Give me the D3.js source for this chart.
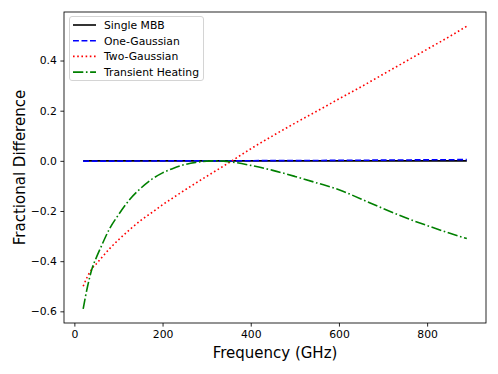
<!DOCTYPE html>
<html>
<head>
<meta charset="utf-8">
<script src="https://cdn.jsdelivr.net/npm/d3@7"></script>
<style>
  body { margin: 0; background: #fff; }
  text { font-family: "DejaVu Sans", sans-serif; }
</style>
</head>
<body>
<div id="chart"></div>
<script>
// frequencies (GHz)
var freq = [20, 30, 40, 50, 60, 80, 100, 125, 150, 175, 200, 225, 250, 275, 300, 325, 350, 400, 450, 500, 550, 600, 650, 700, 750, 800, 850, 890];

// fractional difference per model
var singleMBB = [0, 0, 0, 0, 0, 0, 0, 0, 0, 0, 0, 0, 0, 0, 0, 0, 0, 0, 0, 0, 0, 0, 0, 0, 0, 0, 0, 0];
var oneGaussian = [-0.001, -0.001, -0.001, -0.001, -0.001, -0.001, -0.001, -0.001, -0.0005, -0.0005, 0, 0, 0, 0, 0, 0, 0, 0.0005, 0.001, 0.001, 0.0015, 0.002, 0.0025, 0.003, 0.0035, 0.004, 0.0045, 0.005];
var twoGaussian = [-0.50, -0.46, -0.43, -0.41, -0.39, -0.35, -0.315, -0.275, -0.238, -0.207, -0.175, -0.146, -0.117, -0.089, -0.062, -0.035, -0.008, 0.048, 0.100, 0.150, 0.198, 0.247, 0.295, 0.345, 0.395, 0.445, 0.495, 0.537];
var transientHeating = [-0.59, -0.50, -0.43, -0.385, -0.345, -0.27, -0.215, -0.155, -0.11, -0.074, -0.048, -0.029, -0.015, -0.006, -0.001, 0.0, -0.003, -0.018, -0.038, -0.062, -0.088, -0.115, -0.152, -0.19, -0.226, -0.258, -0.288, -0.31];

var seriesNames = ["Single MBB", "One-Gaussian", "Two-Gaussian", "Transient Heating"];
var xTicks = [0, 200, 400, 600, 800];
var yTicks = [-0.6, -0.4, -0.2, 0.0, 0.2, 0.4];

var w = 498, h = 374;
var axLeft = 64, axRight = 486, axTop = 12, axBottom = 323;

var svg = d3.select("#chart").append("svg")
    .attr("width", w)
    .attr("height", h);

var x = d3.scaleLinear().domain([-23.5, 933.5]).range([axLeft, axRight]);
var y = d3.scaleLinear().domain([-0.6465, 0.5935]).range([axBottom, axTop]);

var minus = function(s) { return s.replace("-", "\u2212"); };

// axes
var xAxis = svg.append("g")
    .attr("transform", "translate(0," + axBottom + ")")
    .call(d3.axisBottom(x).tickValues(xTicks).tickSize(3.6).tickPadding(3.5).tickFormat(d3.format("d")));
var yAxis = svg.append("g")
    .attr("transform", "translate(" + axLeft + ",0)")
    .call(d3.axisLeft(y).tickValues(yTicks).tickSize(3.6).tickPadding(3.5).tickFormat(function(d) { return minus(d3.format(".1f")(d)); }));

[xAxis, yAxis].forEach(function(a) {
    a.select(".domain").remove();
    a.selectAll("line").attr("stroke", "#000").attr("stroke-width", 0.85);
    a.selectAll("text").attr("fill", "#000").style("font-size", "10.8px").style("font-family", "DejaVu Sans");
});

// lines
var styles = [
    { data: singleMBB, color: "#000000", dash: null },
    { data: oneGaussian, color: "#0000ff", dash: "5.9,2.6" },
    { data: twoGaussian, color: "#ff0000", dash: "1.6,2.6" },
    { data: transientHeating, color: "#008000", dash: "10.3,2.6,1.6,2.6" }
];

var line = d3.line()
    .x(function(d) { return x(d[0]); })
    .y(function(d) { return y(d[1]); })
    .curve(d3.curveMonotoneX);

var plot = svg.append("g");
styles.forEach(function(s) {
    plot.append("path")
        .datum(freq.map(function(f, i) { return [f, s.data[i]]; }))
        .attr("d", line)
        .attr("fill", "none")
        .attr("stroke", s.color)
        .attr("stroke-width", 1.6)
        .attr("stroke-dasharray", s.dash);
});

// frame
svg.append("rect")
    .attr("x", axLeft)
    .attr("y", axTop)
    .attr("width", axRight - axLeft)
    .attr("height", axBottom - axTop)
    .attr("fill", "none")
    .attr("stroke", "#000")
    .attr("stroke-width", 0.85);

// legend
var lg = svg.append("g");
lg.append("rect")
    .attr("x", 69.5)
    .attr("y", 16.5)
    .attr("width", 134)
    .attr("height", 64)
    .attr("rx", 2.5)
    .attr("fill", "rgba(255,255,255,0.8)")
    .attr("stroke", "#cccccc")
    .attr("stroke-width", 0.85);

styles.forEach(function(s, i) {
    var yy = 25 + i * 15.7;
    lg.append("line")
        .attr("x1", 73).attr("x2", 96)
        .attr("y1", yy).attr("y2", yy)
        .attr("stroke", s.color)
        .attr("stroke-width", 1.6)
        .attr("stroke-dasharray", s.dash);
    lg.append("text")
        .attr("x", 104)
        .attr("y", yy)
        .attr("dy", "0.36em")
        .style("font-size", "10.8px")
        .text(seriesNames[i]);
});

// axis labels
svg.append("text")
    .attr("x", (axLeft + axRight) / 2)
    .attr("y", 358)
    .attr("text-anchor", "middle")
    .style("font-size", "15px")
    .text("Frequency (GHz)");

svg.append("text")
    .attr("transform", "translate(25," + ((axTop + axBottom) / 2) + ") rotate(-90)")
    .attr("text-anchor", "middle")
    .style("font-size", "15px")
    .text("Fractional Difference");
</script>
</body>
</html>
